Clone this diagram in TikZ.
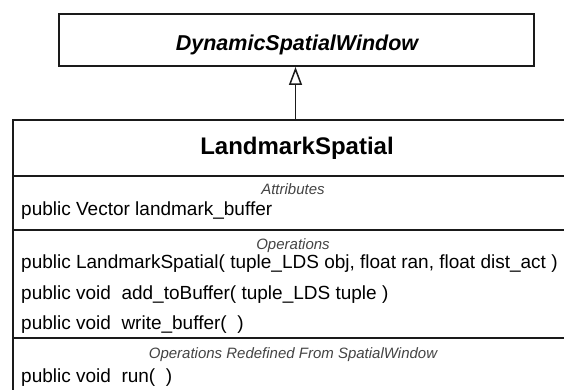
\documentclass[tikz,border=0pt]{standalone}
\usepackage{fontspec}
\setmainfont{Liberation Sans}
\usetikzlibrary{arrows.meta}
\definecolor{umlline}{HTML}{1A1A1A}
\definecolor{umllabel}{HTML}{444444}
\tikzset{
  classbox/.style={draw=umlline, line width=2pt, fill=white, inner sep=0pt},
  divider/.style={draw=umlline, line width=2pt},
  member/.style={anchor=base west, inner sep=0pt, font=\fontsize{19}{21}\selectfont},
  section/.style={anchor=base, inner sep=0pt, text=umllabel, font=\fontsize{15}{16}\selectfont\itshape},
  generalize/.style={draw=umlline, line width=1.5pt,
    -{Triangle[open, length=18pt, width=13pt, line width=1.5pt]}},
}
\begin{document}
\begin{tikzpicture}[x=1pt, y=-1pt]
  \useasboundingbox (0,0) rectangle (564,390);
  \clip (0,0) rectangle (564,390);

  % abstract parent class
  \node[classbox, minimum width=475pt, minimum height=52pt] (parent) at (296.5,40) {};
  \node[anchor=base, inner sep=0pt, font=\fontsize{21.5}{24}\selectfont\bfseries\itshape]
    (parentname) at (297,51) {DynamicSpatialWindow};

  % concrete class, wider than the page
  \node[classbox, minimum width=565pt, minimum height=290pt] (child) at (295.5,265) {};
  \node[anchor=base, inner sep=0pt, font=\fontsize{24}{26}\selectfont\bfseries]
    (childname) at (297,155) {LandmarkSpatial};

  % compartment dividers
  \coordinate (d1) at (13,176);
  \coordinate (d2) at (13,230);
  \coordinate (d3) at (13,338);
  \draw[divider] (d1) -- ++(566,0);
  \draw[divider] (d2) -- ++(566,0);
  \draw[divider] (d3) -- ++(566,0);

  % attributes
  \node[section] (attrlabel) at (293,194) {Attributes};
  \node[member] (attr1) at (21,215) {public Vector landmark\_buffer};

  % operations
  \node[section] (oplabel) at (293,249) {Operations};
  \node[member] (op1) at (21,268) {public LandmarkSpatial( tuple\_LDS obj, float ran, float dist\_act )};
  \node[member] (op2) at (21,299) {public void\ \ add\_toBuffer( tuple\_LDS tuple )};
  \node[member] (op3) at (21,329) {public void\ \ write\_buffer(\ \ )};

  % redefined operations
  \node[section] (redeflabel) at (293,358) {Operations Redefined From SpatialWindow};
  \node[member] (op4) at (21,382) {public void\ \ run(\ \ )};

  % generalization
  \draw[generalize] (child.north) -- (child.north |- parent.south);
\end{tikzpicture}
\end{document}
